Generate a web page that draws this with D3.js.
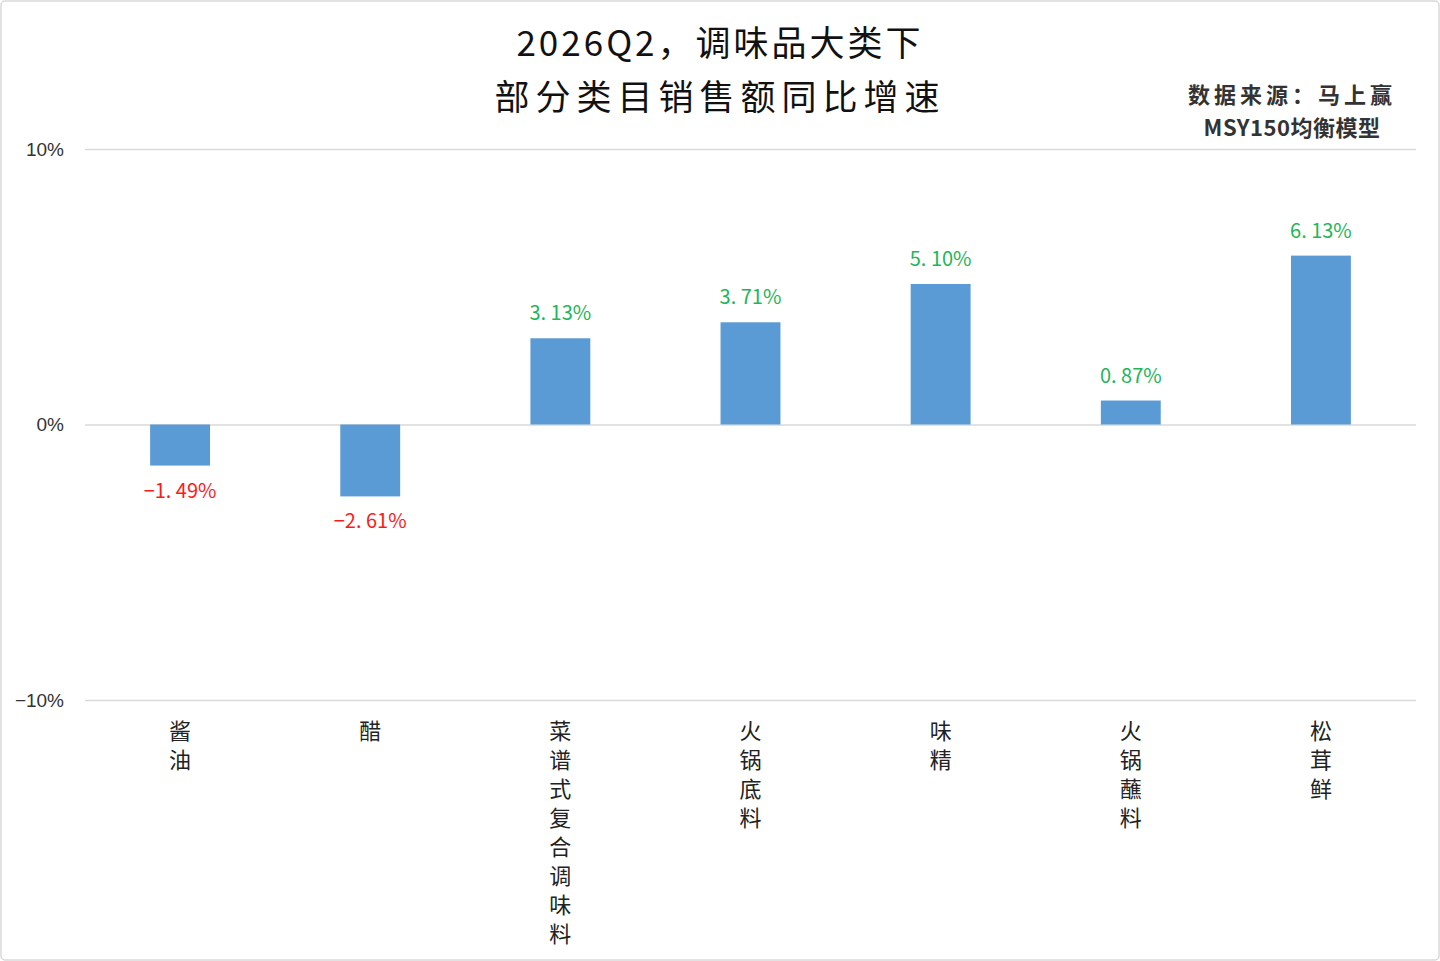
<!DOCTYPE html>
<html>
<head>
<meta charset="utf-8">
<script src="https://cdn.jsdelivr.net/npm/d3@7"></script>
<style>
  body { margin: 0; background: #fff; }
  text { font-family: "Noto Sans CJK SC", "Noto Sans", sans-serif; }
</style>
</head>
<body>
<div id="chart"></div>
<script>
const categories = ["酱油", "醋", "菜谱式复合调味料", "火锅底料", "味精", "火锅蘸料", "松茸鲜"];
const values = [-1.49, -2.61, 3.13, 3.71, 5.10, 0.87, 6.13];
const yTicks = [-10, 0, 10];
const titleLines = ["2026Q2，调味品大类下", "部分类目销售额同比增速"];
const sourceLines = ["数据来源：马上赢", "MSY150均衡模型"];

const W = 1440, H = 961;
const margin = {top: 149, right: 24, bottom: 261, left: 85},
  width = W - margin.left - margin.right,
  height = H - margin.top - margin.bottom;

const root = d3.select("#chart").append("svg")
  .attr("width", W)
  .attr("height", H);

root.append("rect")
  .attr("x", 1).attr("y", 1)
  .attr("width", W - 2).attr("height", H - 2)
  .attr("rx", 4)
  .attr("fill", "#fff")
  .attr("stroke", "#d9d9d9")
  .attr("stroke-width", 1.5);

// title (second line is wider spaced in the original)
root.append("g").selectAll("text")
  .data(titleLines)
  .enter().append("text")
  .attr("x", 720)
  .attr("y", (d, i) => 56 + i * 54)
  .attr("text-anchor", "middle")
  .style("font-size", "35px")
  .style("fill", "#111")
  .style("letter-spacing", (d, i) => i ? "6px" : "3px")
  .text(d => d);

root.append("g").selectAll("text")
  .data(sourceLines)
  .enter().append("text")
  .attr("x", 1292)
  .attr("y", (d, i) => 103 + i * 33)
  .attr("text-anchor", "middle")
  .style("font-size", "22px")
  .style("font-weight", "bold")
  .style("fill", "#333")
  .style("letter-spacing", (d, i) => i ? "0.5px" : "4px")
  .text(d => d);

const svg = root.append("g")
  .attr("transform", `translate(${margin.left},${margin.top})`);

const x = d3.scaleBand()
  .domain(categories)
  .range([0, width])
  .paddingInner(0.685)
  .paddingOuter(0.3425);

const y = d3.scaleLinear()
  .domain([-10, 10])
  .range([height, 0]);

// grid lines + tick labels
const yAxis = svg.append("g")
  .call(d3.axisLeft(y)
    .tickValues(yTicks)
    .tickSize(-width)
    .tickFormat(d => (d < 0 ? "−" : "") + Math.abs(d) + "%"));
yAxis.select(".domain").remove();
yAxis.selectAll("line")
  .attr("stroke", "#d9d9d9")
  .attr("stroke-width", 1.5);
yAxis.selectAll("text")
  .attr("x", -21)
  .style("font-family", "'Liberation Sans', Arial, sans-serif")
  .style("font-size", "19px")
  .style("fill", "#333");

// bars
svg.selectAll(".bar")
  .data(values)
  .enter().append("rect")
  .attr("class", "bar")
  .attr("x", (d, i) => x(categories[i]))
  .attr("y", d => y(Math.max(0, d)))
  .attr("width", x.bandwidth())
  .attr("height", d => Math.abs(y(d) - y(0)))
  .attr("fill", "#5b9bd5");

// value labels
svg.selectAll(".val")
  .data(values)
  .enter().append("text")
  .attr("class", "val")
  .attr("x", (d, i) => x(categories[i]) + x.bandwidth() / 2)
  .attr("y", d => d >= 0 ? y(d) - 18 : y(d) + 32)
  .attr("text-anchor", "middle")
  .style("font-size", "20px")
  .style("fill", d => d >= 0 ? "#22b559" : "#ff1a1a")
  .text(d => (d < 0 ? "−" : "") + d3.format(".2f")(Math.abs(d)).replace(".", ". ") + "%");

// vertical category labels
const cat = svg.selectAll(".cat")
  .data(categories)
  .enter().append("text")
  .attr("class", "cat")
  .attr("text-anchor", "middle")
  .style("font-size", "22px")
  .style("fill", "#222");
cat.selectAll("tspan")
  .data(d => Array.from(d).map(c => ({c, k: d})))
  .enter().append("tspan")
  .attr("x", d => x(d.k) + x.bandwidth() / 2)
  .attr("y", (d, i) => height + 39 + i * 29)
  .text(d => d.c);
</script>
</body>
</html>
